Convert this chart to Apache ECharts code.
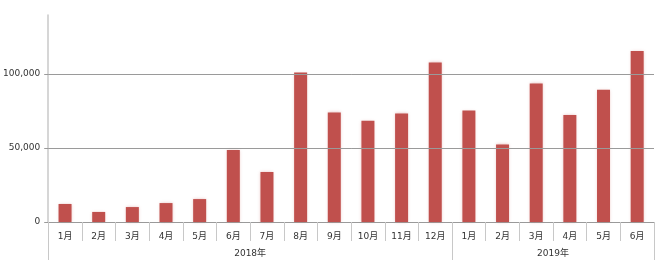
<!DOCTYPE html>
<html>
<head>
<meta charset="utf-8">
<script src="https://cdn.jsdelivr.net/npm/echarts@6/dist/echarts.min.js"></script>
<style>html,body{margin:0;padding:0;background:#fff}#c{width:660px;height:265px}</style>
</head>
<body>
<div id="c"></div>
<script>
const months = ['1月','2月','3月','4月','5月','6月','7月','8月','9月','10月','11月','12月','1月','2月','3月','4月','5月','6月'];
const values = [12200, 6800, 10100, 12800, 15500, 48700, 33800, 101100, 74100, 68500, 73400, 107900, 75400, 52500, 93700, 72300, 89400, 115700];
const years = ['2018年', '2019年'];
const yearMonthCounts = [12, 6];
const yTicks = [0, 50000, 100000];

// group boundaries and centres on a 0..N value scale
const bounds = [0];
yearMonthCounts.forEach(n => bounds.push(bounds[bounds.length - 1] + n));
const centres = yearMonthCounts.map((n, i) => bounds[i] + n / 2);

const font = 'Verdana, "DejaVu Sans", "Noto Sans CJK JP", sans-serif';
const chart = echarts.init(document.getElementById('c'));
chart.setOption({
  animation: false,
  grid: { left: 48, right: 6, top: 15, bottom: 43, containLabel: false },
  xAxis: [
    {
      type: 'category',
      data: months,
      boundaryGap: true,
      axisLine: { show: true, lineStyle: { color: '#9a9a9a', width: 1 } },
      axisTick: { show: true, interval: 0, length: 19, lineStyle: { color: '#c8c8c8', width: 1 } },
      axisLabel: { interval: 0, margin: 10, fontSize: 9, color: '#333', fontFamily: font },
      splitLine: { show: false }
    },
    {
      type: 'value',
      position: 'bottom',
      offset: 19,
      min: 0,
      max: bounds[bounds.length - 1],
      axisLine: { show: false },
      axisTick: { show: true, customValues: bounds, length: 19, lineStyle: { color: '#c8c8c8', width: 1 } },
      axisLabel: {
        customValues: centres,
        margin: 8,
        fontSize: 9,
        color: '#333',
        fontFamily: font,
        formatter: (v) => { const i = centres.indexOf(v); return i >= 0 ? years[i] : ''; }
      },
      splitLine: { show: false }
    }
  ],
  yAxis: {
    type: 'value',
    min: 0,
    max: 140000,
    interval: 50000,
    axisLine: { show: true, lineStyle: { color: '#c8c8c8', width: 1.5 } },
    axisTick: { show: true, customValues: yTicks, length: 4, lineStyle: { color: '#9a9a9a' } },
    axisLabel: {
      customValues: yTicks,
      margin: 8,
      fontSize: 9,
      color: '#333',
      fontFamily: font,
      formatter: (v) => v.toLocaleString('en-US')
    },
    splitLine: { show: false }
  },
  series: [{
    type: 'bar',
    xAxisIndex: 0,
    data: values,
    barWidth: 13,
    itemStyle: {
      color: '#c0504d',
      shadowColor: 'rgba(192,80,77,0.35)',
      shadowBlur: 3
    },
    markLine: {
      silent: true,
      symbol: 'none',
      label: { show: false },
      lineStyle: { color: '#9a9a9a', width: 1, type: 'solid' },
      data: yTicks.filter(v => v > 0).map(v => ({ yAxis: v }))
    }
  }]
});
</script>
</body>
</html>
